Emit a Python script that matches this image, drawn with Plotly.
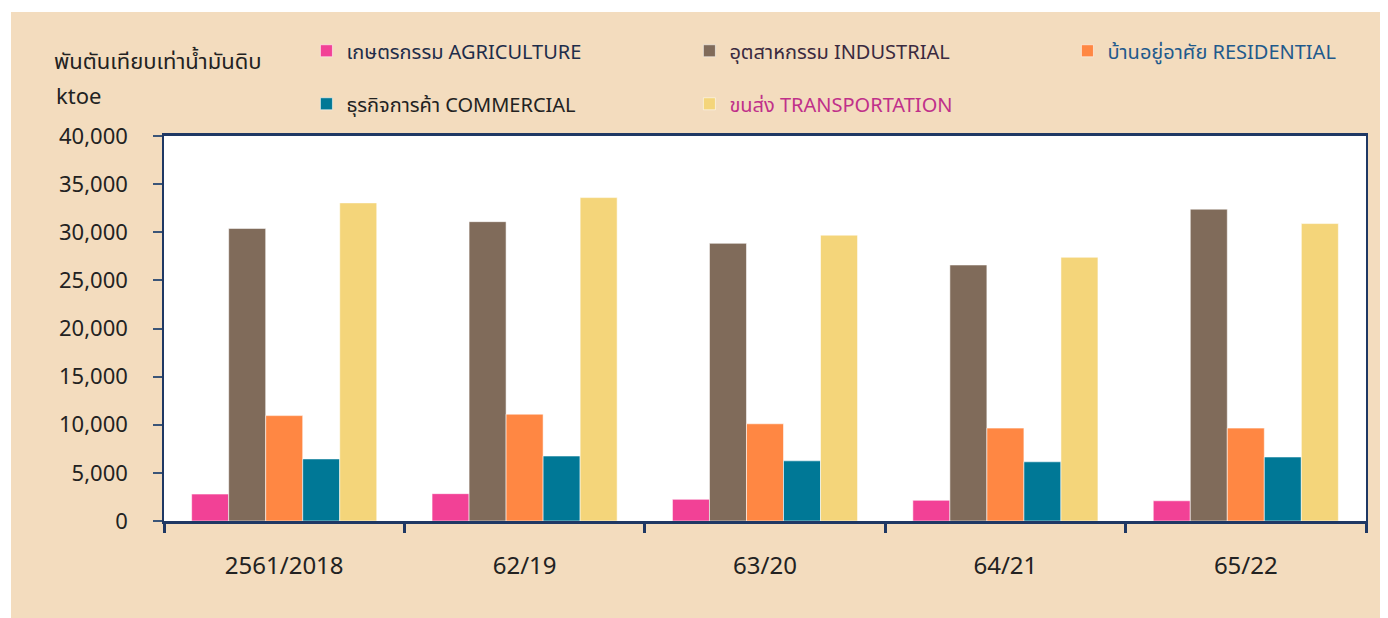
import plotly.graph_objects as go

# data (ktoe)
years = ['2561/2018', '62/19', '63/20', '64/21', '65/22']

agriculture = [2800, 2840, 2250, 2150, 2100]
industrial = [30400, 31100, 28850, 26600, 32400]
residential = [10950, 11100, 10100, 9650, 9650]
commercial = [6450, 6750, 6250, 6150, 6650]
transportation = [33050, 33600, 29700, 27400, 30900]

y_ticks = [0, 5000, 10000, 15000, 20000, 25000, 30000, 35000, 40000]

FONT = "Tahoma, 'Segoe UI', 'Noto Sans Thai', 'Noto Sans', 'DejaVu Sans', sans-serif"
NAVY = '#1F3864'
BG = '#F3DCBE'

# one legend per column of the legend grid
series = [
    ('เกษตรกรรม AGRICULTURE', agriculture, '#F24196', '#1E2D4A', 'legend'),
    ('อุตสาหกรรม INDUSTRIAL', industrial, '#806B5A', '#3A2A40', 'legend2'),
    ('บ้านอยู่อาศัย RESIDENTIAL', residential, '#FF8743', '#1F5A8C', 'legend3'),
    ('ธุรกิจการค้า COMMERCIAL', commercial, '#007896', '#222222', 'legend'),
    ('ขนส่ง TRANSPORTATION', transportation, '#F4D57A', '#C0308A', 'legend2'),
]

fig = go.Figure()

for name, values, color, text_color, leg in series:
    fig.add_trace(go.Bar(
        x=years,
        y=values,
        name=f'<span style="color:{text_color}">{name}</span>',
        legendgroup=name,
        marker=dict(color=color, line=dict(color='rgba(255,255,255,0.55)', width=1)),
        legend=leg,
    ))

legend_style = dict(
    orientation='v',
    xanchor='left',
    yanchor='top',
    y=1.272,
    bgcolor='rgba(0,0,0,0)',
    font=dict(family=FONT, size=20),
    tracegroupgap=24,
    itemwidth=30,
)

# page body adds an 8px offset, margins compensate for it
fig.update_layout(
    width=1388,
    height=618,
    margin=dict(l=156, r=30, t=128, b=105, autoexpand=False),
    paper_bgcolor=BG,
    plot_bgcolor='white',
    barmode='group',
    bargap=0.23,
    bargroupgap=0,
    font=dict(family=FONT, color='#222222'),
    legend=dict(x=0.1185, **legend_style),
    legend2=dict(x=0.4371, **legend_style),
    legend3=dict(x=0.7516, **legend_style),
    showlegend=True,
)

fig.update_xaxes(
    showline=True,
    linecolor=NAVY,
    linewidth=2.5,
    mirror=True,
    ticks='outside',
    tickson='boundaries',
    ticklen=9,
    tickwidth=2.5,
    tickcolor=NAVY,
    tickfont=dict(family=FONT, size=24, color='#222222'),
    ticklabelstandoff=21,
    showgrid=False,
)

fig.update_yaxes(
    range=[0, 40000],
    tickvals=y_ticks,
    tickformat=',',
    showline=True,
    linecolor=NAVY,
    linewidth=1.5,
    mirror=True,
    ticks='outside',
    ticklen=9,
    tickwidth=1.5,
    tickcolor='#3A5578',
    tickfont=dict(family=FONT, size=22, color='#222222'),
    ticklabelstandoff=21,
    showgrid=False,
    zeroline=False,
)

# unit labels
fig.add_annotation(text='พันตันเทียบเท่าน้ำมันดิบ', xref='paper', yref='paper',
                   x=-0.0932, y=1.192, xanchor='left', yanchor='middle', showarrow=False,
                   font=dict(family=FONT, size=22, color='#222222'))
fig.add_annotation(text='ktoe', xref='paper', yref='paper',
                   x=-0.0915, y=1.101, xanchor='left', yanchor='middle', showarrow=False,
                   font=dict(family=FONT, size=22, color='#222222'))

# white page margin round the beige panel
fig.add_shape(type='rect', xref='paper', yref='paper', x0=-0.2, x1=-0.1273, y0=-0.5, y1=1.6,
              fillcolor='white', line=dict(width=0))
fig.add_shape(type='rect', xref='paper', yref='paper', x0=-0.2, x1=1.1, y0=1.322, y1=1.6,
              fillcolor='white', line=dict(width=0))

fig.write_html("out.html")
